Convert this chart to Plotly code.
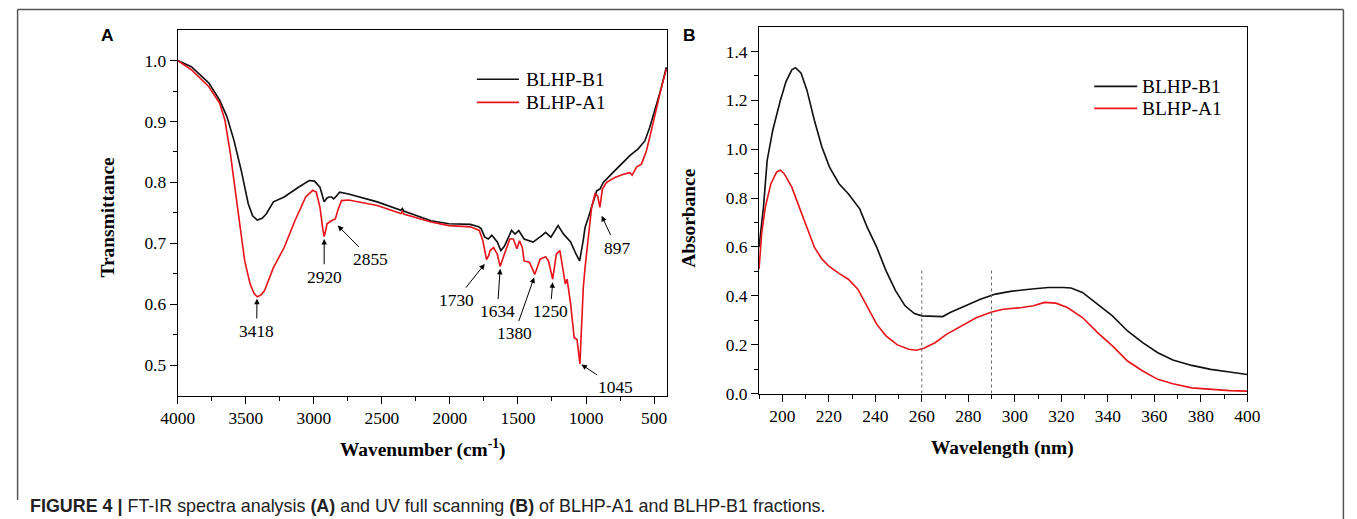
import plotly.graph_objects as go

# ---------------- Panel A: FT-IR ----------------
ir_wn_b1 = [4000, 3900, 3771, 3692, 3639, 3587, 3534, 3482, 3450, 3416, 3380, 3350, 3297, 3218, 3113, 3034,
            2995, 2955, 2924, 2905, 2889, 2870, 2855, 2840, 2810, 2745, 2534, 2360, 2350, 2340, 2139, 2008,
            1850, 1790, 1771, 1744, 1718, 1692, 1652, 1626, 1600, 1587, 1547, 1521, 1494, 1455, 1389, 1323,
            1297, 1258, 1230, 1205, 1165, 1113, 1073, 1047, 1021, 1007, 983, 946, 922, 898, 873, 812, 739,
            678, 617, 568, 532, 495, 446, 410]
ir_t_b1 = [1.000, 0.990, 0.963, 0.935, 0.908, 0.869, 0.820, 0.765, 0.745, 0.738, 0.741, 0.748, 0.768, 0.776,
           0.792, 0.803, 0.802, 0.792, 0.768, 0.774, 0.776, 0.776, 0.773, 0.776, 0.784, 0.781, 0.768, 0.754,
           0.757, 0.753, 0.737, 0.732, 0.731, 0.727, 0.724, 0.710, 0.707, 0.713, 0.702, 0.688, 0.695, 0.702,
           0.721, 0.715, 0.721, 0.707, 0.702, 0.713, 0.718, 0.710, 0.720, 0.729, 0.715, 0.702, 0.682, 0.671,
           0.704, 0.726, 0.742, 0.770, 0.786, 0.789, 0.800, 0.814, 0.830, 0.844, 0.855, 0.868, 0.890, 0.918,
           0.956, 0.989]

ir_wn_a1 = [4000, 3900, 3771, 3692, 3653, 3613, 3587, 3547, 3508, 3468, 3440, 3416, 3390, 3363, 3297, 3218,
            3139, 3060, 3008, 2982, 2955, 2935, 2924, 2912, 2903, 2871, 2842, 2824, 2797, 2745, 2534, 2360,
            2350, 2340, 2139, 2008, 1850, 1784, 1758, 1731, 1715, 1705, 1679, 1652, 1631, 1600, 1560, 1534,
            1508, 1489, 1468, 1455, 1416, 1376, 1337, 1297, 1276, 1245, 1218, 1192, 1171, 1152, 1139, 1113,
            1087, 1066, 1045, 1032, 1020, 1007, 983, 959, 934, 915, 898, 880, 849, 788, 715, 678, 661, 629,
            593, 556, 520, 483, 446, 410]
ir_t_a1 = [1.000, 0.985, 0.957, 0.930, 0.902, 0.847, 0.803, 0.737, 0.671, 0.633, 0.618, 0.612, 0.615, 0.622,
           0.660, 0.693, 0.737, 0.776, 0.787, 0.784, 0.759, 0.725, 0.711, 0.722, 0.732, 0.737, 0.740, 0.754,
           0.770, 0.771, 0.762, 0.749, 0.752, 0.748, 0.735, 0.729, 0.727, 0.721, 0.704, 0.673, 0.680, 0.688,
           0.693, 0.682, 0.662, 0.682, 0.707, 0.707, 0.691, 0.704, 0.693, 0.671, 0.669, 0.649, 0.674, 0.678,
           0.671, 0.641, 0.682, 0.688, 0.660, 0.633, 0.641, 0.600, 0.545, 0.542, 0.502, 0.572, 0.627, 0.660,
           0.709, 0.759, 0.781, 0.778, 0.759, 0.789, 0.800, 0.808, 0.814, 0.816, 0.812, 0.825, 0.830, 0.852,
           0.885, 0.923, 0.956, 0.986]

# peak labels: text, arrow head (wn, T), label centre (wn, T)
peak_labels = ["3418", "2920", "2855", "1730", "1634", "1380", "1250", "1045", "897"]
peak_head_wn = [3418, 2924, 2824, 1744, 1631, 1381, 1245, 1034, 885]
peak_head_t = [0.609, 0.707, 0.729, 0.666, 0.658, 0.644, 0.636, 0.501, 0.745]
peak_lab_wn = [3420, 2924, 2580, 1955, 1652, 1526, 1262, 786, 776]
peak_lab_t = [0.556, 0.645, 0.674, 0.607, 0.588, 0.552, 0.588, 0.464, 0.693]

# ---------------- Panel B: UV ----------------
uv_wl_b1 = [190, 191.9, 193.5, 195.9, 199.2, 201.6, 204.1, 205.7, 208.1, 210.6, 213.8, 217.0, 220.3, 224.4,
            228.4, 233.3, 236.5, 240.6, 244.6, 248.7, 252.8, 256.8, 260.1, 265.7, 269.0, 272.2, 278.7, 285.2,
            291.7, 298.2, 306.3, 314.4, 320.9, 324.2, 329.1, 335.6, 342.0, 348.5, 355.0, 361.5, 368.0, 376.1,
            384.3, 392.4, 400]
uv_a_b1 = [0.599, 0.763, 0.955, 1.078, 1.201, 1.277, 1.325, 1.334, 1.311, 1.242, 1.119, 1.010, 0.927, 0.859,
           0.818, 0.756, 0.681, 0.599, 0.503, 0.421, 0.359, 0.327, 0.318, 0.318, 0.315, 0.332, 0.359, 0.386,
           0.407, 0.418, 0.427, 0.434, 0.434, 0.432, 0.414, 0.366, 0.318, 0.256, 0.208, 0.167, 0.137, 0.115,
           0.099, 0.088, 0.078]

uv_wl_a1 = [190, 191.1, 192.7, 195.1, 197.6, 199.2, 200.8, 204.1, 207.3, 210.6, 213.8, 217.0, 220.3, 224.4,
            228.4, 232.5, 236.5, 240.6, 244.6, 249.5, 254.4, 257.6, 260.9, 265.7, 270.6, 277.1, 283.6, 290.1,
            295.0, 303.1, 308.0, 312.8, 317.7, 322.6, 329.1, 335.6, 342.0, 348.5, 355.0, 361.5, 368.0, 376.1,
            384.3, 392.4, 400]
uv_a_a1 = [0.510, 0.653, 0.763, 0.859, 0.907, 0.914, 0.900, 0.845, 0.763, 0.681, 0.599, 0.551, 0.519, 0.492,
           0.468, 0.427, 0.359, 0.284, 0.236, 0.199, 0.181, 0.177, 0.185, 0.208, 0.242, 0.277, 0.311, 0.334,
           0.345, 0.352, 0.359, 0.373, 0.370, 0.352, 0.311, 0.249, 0.195, 0.133, 0.092, 0.058, 0.040, 0.023,
           0.016, 0.012, 0.010]

uv_marker_wl = [260, 290]
uv_marker_top = [0.51, 0.505]

series_names = ["BLHP-B1", "BLHP-A1"]
series_colors = ["#111111", "#e8141b"]

# ---------------- layout helpers ----------------
# The figure fills the browser viewport; the photo is fitted to 1357x519,
# so positions are given in photo pixels and converted here.
FW, FH = 1357, 531
S = 519 / FH
OFF = (1357 - FW * S) / 2

def fx(p):
    v = ((p - OFF) / S) / FW
    return min(max(v, 0.6 / FW), 1 - 0.6 / FW)

def fy(p):
    return 1 - (p / S) / FH

def fs(size):
    return round(size / S, 1)

SERIF = "Liberation Serif, Times New Roman, serif"
SANS = "Liberation Sans, Arial, sans-serif"

fig = go.Figure()

lw = 1.6 / S
fig.add_trace(go.Scatter(x=ir_wn_b1, y=ir_t_b1, mode="lines", name=series_names[0],
                         line=dict(color=series_colors[0], width=lw), xaxis="x", yaxis="y", showlegend=False))
fig.add_trace(go.Scatter(x=ir_wn_a1, y=ir_t_a1, mode="lines", name=series_names[1],
                         line=dict(color=series_colors[1], width=lw), xaxis="x", yaxis="y", showlegend=False))
fig.add_trace(go.Scatter(x=uv_wl_b1, y=uv_a_b1, mode="lines", name=series_names[0],
                         line=dict(color=series_colors[0], width=lw), xaxis="x2", yaxis="y2", showlegend=False))
fig.add_trace(go.Scatter(x=uv_wl_a1, y=uv_a_a1, mode="lines", name=series_names[1],
                         line=dict(color=series_colors[1], width=lw), xaxis="x2", yaxis="y2", showlegend=False))

# dotted marker lines in B
for wl, top in zip(uv_marker_wl, uv_marker_top):
    fig.add_shape(type="line", xref="x2", yref="y2", x0=wl, x1=wl, y0=0, y1=top,
                  line=dict(color="#666666", width=1, dash="dot"))

axis_common = dict(showline=True, linecolor="black", linewidth=1.2, mirror=True, ticks="outside",
                   ticklen=7, tickwidth=1, tickcolor="black", showgrid=False, zeroline=False,
                   tickfont=dict(family=SERIF, size=fs(17), color="black"))
minor_common = dict(ticks="outside", ticklen=4, tickwidth=1, tickcolor="black")

A_L, A_R, A_T, A_B = 176, 665, 30, 394
B_L, B_R, B_T, B_B = 757, 1245, 27, 392

fig.update_layout(
    width=FW, height=FH, autosize=False,
    margin=dict(l=0, r=0, t=0, b=0),
    paper_bgcolor="white", plot_bgcolor="white",
    xaxis=dict(domain=[fx(A_L), fx(A_R)], range=[4000, 405], tickmode="array",
               tickvals=[4000, 3500, 3000, 2500, 2000, 1500, 1000, 500],
               minor=dict(tickvals=[3750, 3250, 2750, 2250, 1750, 1250, 750], **minor_common),
               anchor="y", **axis_common),
    yaxis=dict(domain=[fy(A_B), fy(A_T)], range=[0.45, 1.05], tickmode="array",
               tickvals=[0.5, 0.6, 0.7, 0.8, 0.9, 1.0], ticktext=["0.5", "0.6", "0.7", "0.8", "0.9", "1.0"],
               minor=dict(tickvals=[0.55, 0.65, 0.75, 0.85, 0.95], **minor_common),
               anchor="x", **axis_common),
    xaxis2=dict(domain=[fx(B_L), fx(B_R)], range=[190, 400], tickmode="array",
                tickvals=[200, 220, 240, 260, 280, 300, 320, 340, 360, 380, 400],
                minor=dict(tickvals=[190, 210, 230, 250, 270, 290, 310, 330, 350, 370, 390], **minor_common),
                anchor="y2", **axis_common),
    yaxis2=dict(domain=[fy(B_B), fy(B_T)], range=[0, 1.5], tickmode="array",
                tickvals=[0, 0.2, 0.4, 0.6, 0.8, 1.0, 1.2, 1.4],
                ticktext=["0.0", "0.2", "0.4", "0.6", "0.8", "1.0", "1.2", "1.4"],
                minor=dict(tickvals=[0.1, 0.3, 0.5, 0.7, 0.9, 1.1, 1.3], **minor_common),
                anchor="x2", **axis_common),
)

# peak annotations
for lab, hx, hy, lx, ly in zip(peak_labels, peak_head_wn, peak_head_t, peak_lab_wn, peak_lab_t):
    fig.add_annotation(x=hx, y=hy, xref="x", yref="y", ax=lx, ay=ly, axref="x", ayref="y",
                       text=lab, showarrow=True, arrowhead=2, arrowsize=1.1, arrowwidth=1,
                       arrowcolor="black", standoff=0, startstandoff=1,
                       font=dict(family=SERIF, size=fs(17), color="black"))

# legends drawn in paper coords: (line x0, line x1, text x, y)
legA = [(475, 517, 522, 79), (475, 517, 522, 102)]
legB = [(1092, 1135, 1138, 86), (1092, 1135, 1138, 108)]
for leg in (legA, legB):
    for (x0, x1, tx, y), nm, col in zip(leg, series_names, series_colors):
        fig.add_shape(type="line", xref="paper", yref="paper", x0=fx(x0), x1=fx(x1), y0=fy(y), y1=fy(y),
                      line=dict(color=col, width=lw))
        fig.add_annotation(x=fx(tx), y=fy(y), xref="paper", yref="paper", text=nm, showarrow=False,
                           xanchor="left", yanchor="middle",
                           font=dict(family=SERIF, size=fs(19), color="black"))

def label(px_, py_, text, size, family, angle=0):
    fig.add_annotation(x=fx(px_), y=fy(py_), xref="paper", yref="paper", text=text, textangle=angle,
                       xanchor="center", yanchor="middle", showarrow=False,
                       font=dict(family=family, size=fs(size), color="black"))

# axis titles
label(106, 216, "<b>Transmittance</b>", 19, SERIF, -90)
label(421, 447, "<b>Wavenumber (cm<sup>-1</sup>)</b>", 19, SERIF)
label(687, 217, "<b>Absorbance</b>", 19, SERIF, -90)
label(1000, 446, "<b>Wavelength (nm)</b>", 19, SERIF)

# panel letters
label(106, 35, "<b>A</b>", 17, SANS)
label(687, 35, "<b>B</b>", 17, SANS)

# outer frame
frame_col = "#555555"
fig.add_shape(type="line", xref="paper", yref="paper", x0=fx(8), x1=fx(1355.5), y0=fy(9.5), y1=fy(9.5),
              line=dict(color=frame_col, width=1.5))
fig.add_shape(type="line", xref="paper", yref="paper", x0=fx(8), x1=fx(8), y0=fy(9.5), y1=fy(498),
              line=dict(color=frame_col, width=1.5))
fig.add_shape(type="line", xref="paper", yref="paper", x0=fx(1355.5), x1=fx(1355.5), y0=fy(9.5), y1=0,
              line=dict(color=frame_col, width=1.5))

# caption
fig.add_annotation(x=fx(26), y=fy(504), xref="paper", yref="paper", xanchor="left", yanchor="middle",
                   text="<b>FIGURE 4 |</b> FT-IR spectra analysis <b>(A)</b> and UV full scanning <b>(B)</b> "
                        "of BLHP-A1 and BLHP-B1 fractions.",
                   showarrow=False, font=dict(family=SANS, size=fs(17.5), color="#222222"))

page_fix = (
    "var de=document.documentElement, b=document.body;"
    "[de,b].forEach(function(e){e.style.margin='0';e.style.padding='0';e.style.overflow='hidden';});"
)

fig.write_html("out.html", config={"displayModeBar": False, "responsive": False}, post_script=page_fix)
